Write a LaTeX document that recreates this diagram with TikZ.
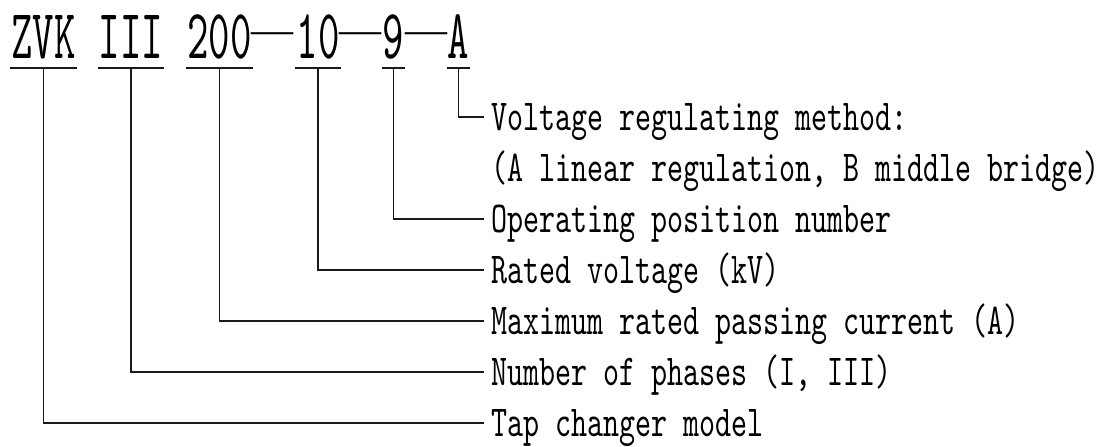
\documentclass[tikz,border=0pt]{standalone}
\usepackage{fontspec}
\usetikzlibrary{positioning}
\newfontfamily\codefont[FakeStretch=0.58]{lmmono10-regular.otf}
\newfontfamily\descfont[FakeStretch=0.69]{lmmono10-regular.otf}
\newfontfamily\dashfont{Liberation Serif}

\begin{document}
\begin{tikzpicture}[
  x=1pt, y=1pt,
  codebox/.style={
    anchor=base,
    inner xsep=1pt,
    inner ysep=10pt,
    text height=43pt,
    text depth=0pt,
    font=\codefont\fontsize{70.4}{70}\selectfont
  },
  sepdash/.style={
    anchor=base,
    inner sep=0pt,
    font=\dashfont\fontsize{42}{42}\selectfont
  },
  desc/.style={
    anchor=west,
    inner xsep=7pt,
    inner ysep=0pt,
    text height=27pt,
    text depth=0pt,
    font=\descfont\fontsize{44.2}{50}\selectfont
  },
  wire/.style={line width=1.6pt, draw=black!90}
]
\useasboundingbox (0,0) rectangle (1120,-447);

\node[codebox] (zvk) at (43.5,-58) {ZVK};
\node[codebox] (ph) at (131,-58) {III};
\node[codebox] (cur) at (219.5,-58) {200};
\node[sepdash] (d1) at (272,-43) {—};
\node[codebox] (kv) at (318,-58) {10};
\node[sepdash] (d2) at (360.5,-43) {—};
\node[codebox] (pos) at (393.5,-58) {9};
\node[sepdash] (d3) at (426,-43) {—};
\node[codebox] (meth) at (458.5,-58) {A};

\node[desc] (volt) at (484,-117) {Voltage regulating method:};
\node[desc, below=24pt of volt.south west, anchor=north west] (volt2) {(A linear regulation, B middle bridge)};
\node[desc] (opn) at (484,-219) {Operating position number};
\node[desc] (rv) at (484,-270) {Rated voltage (kV)};
\node[desc] (mrc) at (484,-321) {Maximum rated passing current (A)};
\node[desc] (nph) at (484,-372) {Number of phases (I, III)};
\node[desc] (tcm) at (484,-423) {Tap changer model};

\foreach \n in {zvk,ph,cur,kv,pos,meth}
  \draw[wire] (\n.south west) -- (\n.south east);

\draw[wire] (meth.south) |- (volt.west);
\draw[wire] (pos.south) |- (opn.west);
\draw[wire] (kv.south) |- (rv.west);
\draw[wire] (cur.south) |- (mrc.west);
\draw[wire] (ph.south) |- (nph.west);
\draw[wire] (zvk.south) |- (tcm.west);

\end{tikzpicture}
\end{document}
